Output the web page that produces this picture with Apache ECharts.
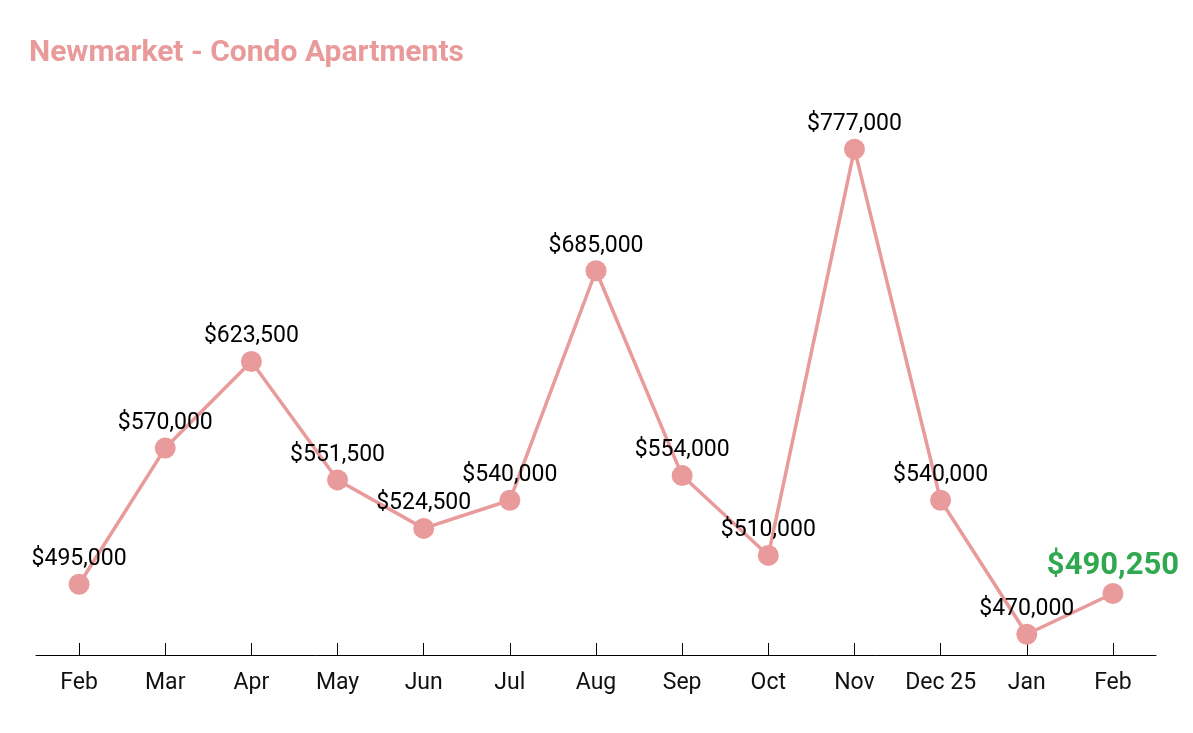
<!doctype html>
<html lang="en">
<head>
	<meta charset="UTF-8">
	<title>Newmarket - Condo Apartments</title>
	<style>
		html, body { margin: 0; padding: 0; background: #fff; }
		#main { width: 1193px; height: 733px; }
	</style>
</head>
<body>
<div id="main"></div>
<script src="https://cdn.jsdelivr.net/npm/echarts@6/dist/echarts.min.js"></script>
<script type="text/javascript">
	// monthly median prices
	var months = ['Feb', 'Mar', 'Apr', 'May', 'Jun', 'Jul', 'Aug', 'Sep', 'Oct', 'Nov', 'Dec 25', 'Jan', 'Feb'];
	var prices = [495000, 570000, 623500, 551500, 524500, 540000, 685000, 554000, 510000, 777000, 540000, 470000, 490250];

	var pink = '#e99a9a';
	var lastIdx = prices.length - 1;

	function money(v) {
		return '$' + v.toLocaleString('en-US');
	}

	var points = prices.map(function (v, i) {
		if (i === lastIdx) {
			return {
				value: v,
				label: { fontSize: 31, fontWeight: 'bold', color: '#2fa84f', distance: 1 }
			};
		}
		return v;
	});

	var myChart = echarts.init(document.getElementById('main'));

	var option = {
		backgroundColor: '#fff',
		animation: false,
		title: {
			text: 'Newmarket - Condo Apartments',
			left: 24,
			top: 33,
			textStyle: {
				color: pink,
				fontFamily: 'Roboto',
				fontWeight: 'bold',
				fontSize: 30
			}
		},
		grid: { left: 36, right: 37, top: 121, bottom: 78 },
		xAxis: {
			type: 'category',
			data: months,
			boundaryGap: true,
			axisLine: { lineStyle: { color: '#000', width: 1 } },
			axisTick: {
				show: true,
				inside: true,
				length: 12,
				interval: 0,
				alignWithLabel: true,
				lineStyle: { color: '#000', width: 1 }
			},
			axisLabel: { interval: 0, color: '#111', fontFamily: 'Roboto', fontSize: 23, margin: 17 }
		},
		yAxis: {
			type: 'log',
			min: 460000,
			max: 800000,
			show: false,
			splitLine: { show: false }
		},
		series: [{
			type: 'line',
			data: points,
			symbol: 'circle',
			symbolSize: 21,
			z: 3,
			lineStyle: { color: pink, width: 3.5 },
			itemStyle: { color: pink },
			label: {
				show: true,
				position: 'top',
				distance: 3,
				color: '#000',
				fontFamily: 'Roboto',
				fontSize: 23,
				formatter: function (p) { return money(p.value); }
			}
		}]
	};

	myChart.setOption(option);
</script>
</body>
</html>
